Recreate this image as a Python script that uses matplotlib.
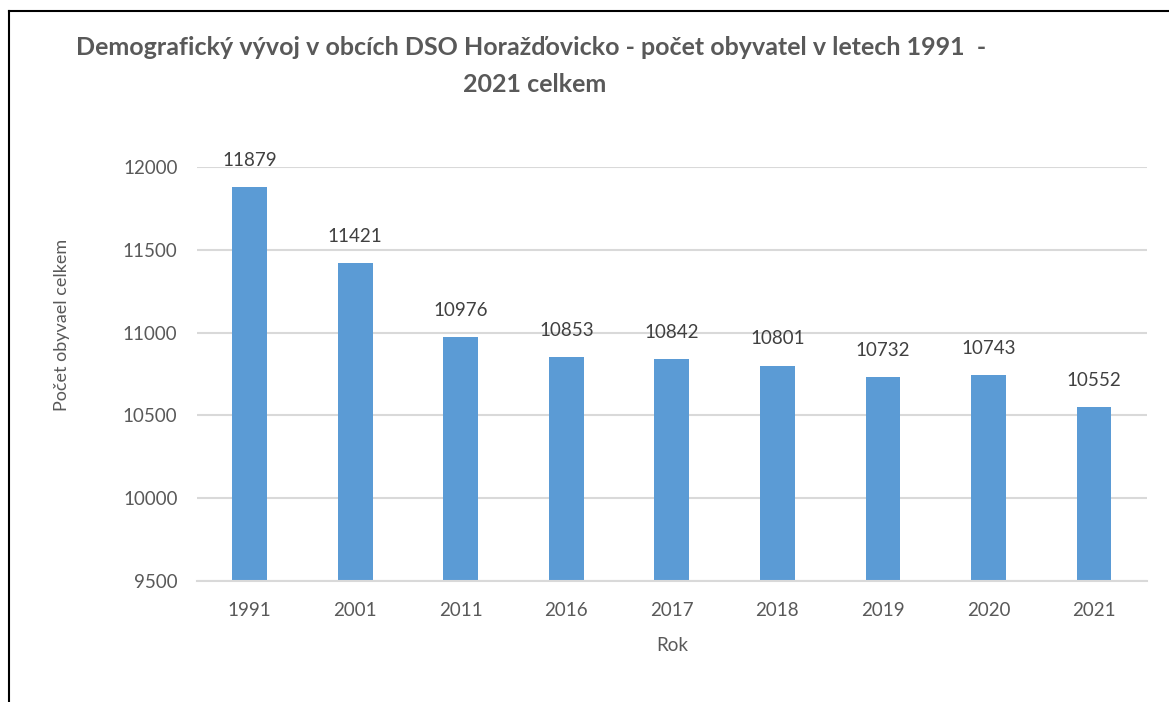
import matplotlib.pyplot as plt
from matplotlib.lines import Line2D

years = ['1991', '2001', '2011', '2016', '2017', '2018', '2019', '2020', '2021']
population = [11879, 11421, 10976, 10853, 10842, 10801, 10732, 10743, 10552]
y_ticks = [9500, 10000, 10500, 11000, 11500, 12000]

plt.rcParams['font.family'] = ['Lato', 'DejaVu Sans']

fig = plt.figure(figsize=(11.69, 7.02), dpi=100)
ax = fig.add_axes([0.1685, 0.1724, 0.8125, 0.5897])

bars = ax.bar(years, population, width=0.33, color='#5b9bd5', zorder=2)
ax.set_ylim(9500, 12000)
ax.set_xlim(-0.5, len(years) - 0.5)
ax.set_yticks(y_ticks)
ax.grid(axis='y', color='#d9d9d9', linewidth=1.5, zorder=0)
for side in ['top', 'right', 'left']:
    ax.spines[side].set_visible(False)
ax.spines['bottom'].set_color('#d9d9d9')
ax.spines['bottom'].set_linewidth(1.5)
ax.tick_params(axis='both', length=0, labelsize=13.5, labelcolor='#595959')
ax.tick_params(axis='y', pad=14)
ax.tick_params(axis='x', pad=15)

for rect, val in zip(bars, population):
    ax.annotate(str(val), (rect.get_x() + rect.get_width() / 2, val),
                xytext=(0, 13), textcoords='offset points',
                ha='center', va='bottom', fontsize=13.5, color='#404040')

fig.text(0.0530, 0.537, 'Počet obyvael celkem', rotation=90, ha='center', va='center',
         fontsize=13, color='#595959')
fig.text(0.575, 0.081, 'Rok', ha='center', va='center', fontsize=13.5, color='#595959')

fig.text(0.454, 0.932, 'Demografický vývoj v obcích DSO Horažďovicko - počet obyvatel v letech 1991  -',
         ha='center', va='center', fontsize=18, fontweight='bold', color='#595959')
fig.text(0.457, 0.880, '2021 celkem', ha='center', va='center', fontsize=18,
         fontweight='bold', color='#595959')

# frame around the chart (left and top edges visible)
fig.add_artist(Line2D([9 / 1169, 9 / 1169], [0, 1 - 11 / 702], color='black', linewidth=1.5,
                      transform=fig.transFigure))
fig.add_artist(Line2D([9 / 1169, 1], [1 - 11 / 702, 1 - 11 / 702], color='black', linewidth=1.5,
                      transform=fig.transFigure))

fig.savefig('out.png', dpi=100)
